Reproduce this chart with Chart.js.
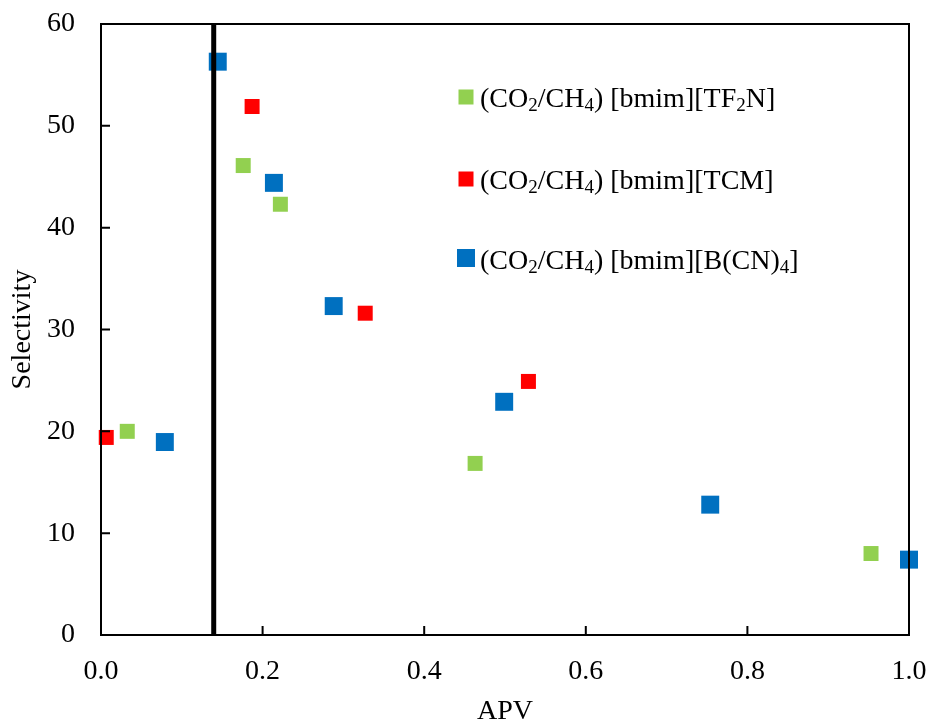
<!DOCTYPE html>
<html>
<head>
<meta charset="utf-8">
<script src="https://cdn.jsdelivr.net/npm/chart.js@4"></script>
<style>
  html, body { margin: 0; padding: 0; background: #fff; }
  #wrap { width: 933px; height: 726px; }
</style>
</head>
<body>
<div id="wrap"><canvas id="myScatterChart"></canvas></div>
<script>
// APV vs selectivity
const tf2nPoints = [
  { x: 0.0325, y: 20.0 },
  { x: 0.176, y: 46.1 },
  { x: 0.222, y: 42.3 },
  { x: 0.463, y: 16.85 },
  { x: 0.953, y: 8.0 },
];
const tcmPoints = [
  { x: 0.0065, y: 19.4 },
  { x: 0.187, y: 51.9 },
  { x: 0.327, y: 31.6 },
  { x: 0.529, y: 24.9 },
];
const bcn4Points = [
  { x: 0.079, y: 18.95 },
  { x: 0.1445, y: 56.3 },
  { x: 0.214, y: 44.4 },
  { x: 0.288, y: 32.3 },
  { x: 0.499, y: 22.9 },
  { x: 0.754, y: 12.8 },
  { x: 1.0, y: 7.4 },
];
const cutoffLine = [
  { x: 0.1395, y: 0 },
  { x: 0.1395, y: 60 },
];
const xTicks = [0, 0.2, 0.4, 0.6, 0.8, 1.0];
const yTicks = [0, 10, 20, 30, 40, 50, 60];
const legendLabels = [
  ["(CO", "2", "/CH", "4", ") [bmim][TF", "2", "N]"],
  ["(CO", "2", "/CH", "4", ") [bmim][TCM]"],
  ["(CO", "2", "/CH", "4", ") [bmim][B(CN)", "4", "]"],
];

const GREEN = "#92D050";
const RED = "#FF0000";
const BLUE = "#0070C0";
const FONT = "'Liberation Serif', 'Times New Roman', serif";

// no extra room for overflowing tick labels, the layout padding sets the plot box
function noOverflow(scale) {
  scale.paddingTop = 0;
  scale.paddingBottom = 0;
  scale.paddingLeft = 0;
  scale.paddingRight = 0;
}

// box around the plot + inward tick marks
const frame = {
  id: "frame",
  afterDraw(chart) {
    const { ctx, chartArea: a, scales } = chart;
    ctx.save();
    ctx.strokeStyle = "#000";
    ctx.lineWidth = 2;
    ctx.strokeRect(a.left, a.top, a.right - a.left, a.bottom - a.top);
    ctx.beginPath();
    yTicks.forEach((v) => {
      const y = scales.y.getPixelForValue(v);
      ctx.moveTo(a.left, y);
      ctx.lineTo(a.left + 9, y);
    });
    xTicks.forEach((v) => {
      const x = scales.x.getPixelForValue(v);
      ctx.moveTo(x, a.bottom);
      ctx.lineTo(x, a.bottom - 9);
    });
    ctx.stroke();
    ctx.restore();
  },
};

// legend with subscripts, drawn inside the plot
const subLegend = {
  id: "subLegend",
  afterDatasetsDraw(chart) {
    const { ctx } = chart;
    const rows = [
      { color: GREEN, size: 15, cy: 97, base: 107 },
      { color: RED, size: 15, cy: 179, base: 189 },
      { color: BLUE, size: 18, cy: 258, base: 269 },
    ];
    ctx.save();
    ctx.textBaseline = "alphabetic";
    rows.forEach((r, i) => {
      ctx.fillStyle = r.color;
      ctx.fillRect(466 - r.size / 2, r.cy - r.size / 2, r.size, r.size);
      ctx.fillStyle = "#000";
      let x = 480;
      legendLabels[i].forEach((part, j) => {
        const sub = j % 2 === 1;
        ctx.font = (sub ? "19px " : "28px ") + FONT;
        ctx.fillText(part, x, r.base + (sub ? 4 : 0));
        x += ctx.measureText(part).width;
      });
    });
    ctx.restore();
  },
};

const ctx = document.getElementById("myScatterChart").getContext("2d");
const myScatterChart = new Chart(ctx, {
  type: "scatter",
  data: {
    datasets: [
      {
        type: "line",
        label: "cutoff",
        data: cutoffLine,
        borderColor: "#000",
        borderWidth: 5,
        pointRadius: 0,
        fill: false,
      },
      {
        label: "(CO2/CH4) [bmim][TF2N]",
        data: tf2nPoints,
        pointStyle: "rect",
        pointRadius: 10.6,
        borderWidth: 0,
        backgroundColor: GREEN,
        borderColor: GREEN,
        clip: false,
      },
      {
        label: "(CO2/CH4) [bmim][TCM]",
        data: tcmPoints,
        pointStyle: "rect",
        pointRadius: 10.6,
        borderWidth: 0,
        backgroundColor: RED,
        borderColor: RED,
        clip: false,
      },
      {
        label: "(CO2/CH4) [bmim][B(CN)4]",
        data: bcn4Points,
        pointStyle: "rect",
        pointRadius: 12.7,
        borderWidth: 0,
        backgroundColor: BLUE,
        borderColor: BLUE,
        clip: false,
      },
    ],
  },
  options: {
    responsive: true,
    maintainAspectRatio: false,
    animation: false,
    layout: { padding: { top: 24, right: 24, left: 0, bottom: 0 } },
    scales: {
      x: {
        type: "linear",
        min: 0,
        max: 1,
        afterFit: (scale) => { scale.height = 91; noOverflow(scale); },
        afterBuildTicks: (scale) => { scale.ticks = xTicks.map((v) => ({ value: v })); },
        grid: { display: false, drawTicks: false },
        border: { display: false },
        ticks: {
          color: "#000",
          padding: 20,
          font: { family: FONT, size: 28 },
          callback: (v) => v.toFixed(1),
          maxRotation: 0,
        },
        title: {
          display: true,
          text: "APV",
          color: "#000",
          font: { family: FONT, size: 28 },
          padding: { top: 0, bottom: -2 },
        },
      },
      y: {
        type: "linear",
        min: 0,
        max: 60,
        afterFit: (scale) => { scale.width = 101; noOverflow(scale); },
        afterBuildTicks: (scale) => { scale.ticks = yTicks.map((v) => ({ value: v })); },
        grid: { display: false, drawTicks: false },
        border: { display: false },
        ticks: {
          color: "#000",
          padding: 26,
          font: { family: FONT, size: 28 },
        },
        title: {
          display: true,
          text: "Selectivity",
          color: "#000",
          font: { family: FONT, size: 28 },
          padding: { top: 6, bottom: 0 },
        },
      },
    },
    plugins: {
      legend: { display: false },
      tooltip: { enabled: false },
    },
  },
  plugins: [frame, subLegend],
});
</script>
</body>
</html>
